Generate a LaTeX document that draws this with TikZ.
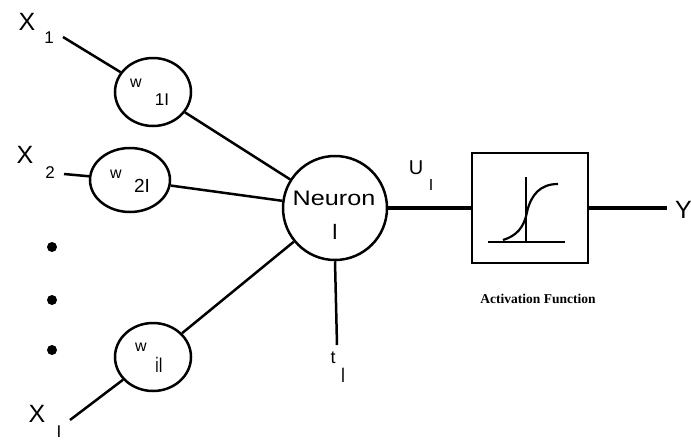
\documentclass[tikz,border=0pt]{standalone}
\usepackage{fontspec}
\setmainfont{Liberation Sans}
\newfontfamily\serifact{Liberation Serif}
\usetikzlibrary{shapes.geometric}
\begin{document}
\begin{tikzpicture}[x=1pt,y=-1pt,
  wire/.style={line width=2.5pt,black},
  wnode/.style={draw,line width=2.5pt,ellipse,minimum width=76pt,minimum height=68pt,inner sep=0pt},
  lbl/.style={font=\fontsize{25}{26}\selectfont,inner sep=0pt},
  sub/.style={font=\fontsize{17}{17}\selectfont,inner sep=0pt},
  wl/.style={font=\fontsize{16}{16}\selectfont,inner sep=0pt},
  dotn/.style={circle,fill=black,minimum size=10pt,inner sep=0pt}]
\useasboundingbox (0,0) rectangle (691,442);
% input labels
\node[lbl] (x1) at (27,22) {X};
\node[sub] (x1s) at (49,38) {1};
\node[lbl] (x2) at (25,155) {X};
\node[sub] (x2s) at (50,173) {2};
\node[lbl] (xi) at (37,414) {X};
\node[sub] (xis) at (59,432) {I};
\coordinate (x1e) at (63,37);
\coordinate (x2e) at (64,174);
\coordinate (xie) at (70,420);
% weights
\node[wnode] (w1) at (153,92) {};
\node[wnode,minimum width=80pt,minimum height=64pt] (w2) at (130,180) {};
\node[wnode] (wi) at (153,357) {};
\node[wl] at (136,83) {w};
\node[sub] at (162,100) {1I};
\node[wl] at (116,174) {w};
\node[sub,font=\fontsize{19}{19}\selectfont] at (142,186) {2I};
\node[wl] at (141,347) {w};
\node[sub,font=\fontsize{15}{15}\selectfont,yscale=1.4] at (159,365) {iI};
% dots
\node[dotn] (d1) at (52,247) {};
\node[dotn] (d2) at (52,300) {};
\node[dotn] (d3) at (52,350) {};
% neuron
\node[draw,circle,line width=2.5pt,minimum size=104pt,inner sep=0pt] (n) at (335,208) {};
\node[font=\fontsize{21}{21}\selectfont,inner sep=0pt,xscale=1.2] at (334,198) {Neuron};
\node[font=\fontsize{22}{22}\selectfont,inner sep=0pt] at (335,232) {I};
% threshold
\coordinate (te) at (337,345);
\node[sub,font=\fontsize{18}{18}\selectfont] (t) at (333,358) {t};
\node[sub,font=\fontsize{16}{16}\selectfont,yscale=1.3] (ts) at (343,375) {I};
% U label
\node[font=\fontsize{20}{20}\selectfont,inner sep=0pt] (u) at (416,168) {U};
\node[sub,font=\fontsize{16}{16}\selectfont] (us) at (431,185) {I};
% activation box
\node[draw,line width=2.5pt,minimum width=116pt,minimum height=110pt,inner sep=0pt] (box) at (530,208) {};
\draw[line width=2.2pt] (488,242) -- (565,242);
\draw[line width=2.2pt] (526,177) -- (526,242);
\draw[line width=2.2pt] (503,240) .. controls (516,236) and (524,228) .. (527,212)
  .. controls (531,195) and (540,184) .. (558,184);
\node[font=\serifact\bfseries\fontsize{13.5}{14}\selectfont,inner sep=0pt] at (538,299) {Activation Function};
\coordinate (ye) at (667,208);
\node[lbl,anchor=west] (y) at (675,210) {Y};
% wires
\draw[wire] (x1e) -- (w1);
\draw[wire] (x2e) -- (w2);
\draw[wire] (xie) -- (wi);
\draw[wire] (w1) -- (n);
\draw[wire] (w2) -- (n);
\draw[wire] (wi) -- (n);
\draw[wire] (n.south) -- (te);
\draw[wire,line width=3.4pt] (n.east) -- (box.west);
\draw[wire,line width=3.4pt] (box.east) -- (ye);
\end{tikzpicture}
\end{document}
